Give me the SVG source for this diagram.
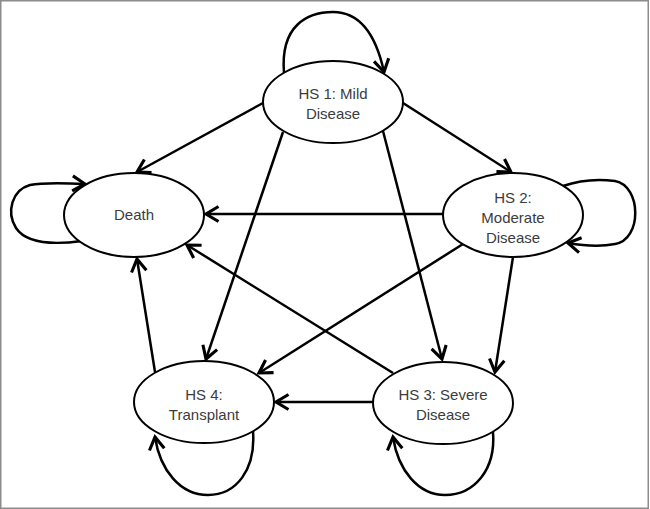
<svg xmlns="http://www.w3.org/2000/svg" width="650" height="509" viewBox="0 0 650 509">
<defs>
<marker id="arr" markerUnits="userSpaceOnUse" markerWidth="20" markerHeight="20" viewBox="-12 -8 14 16" refX="0" refY="0" orient="auto" overflow="visible">
<path d="M-10,-6 L0,0 L-10,6" fill="none" stroke="#000" stroke-width="2.5" stroke-linejoin="miter"/>
</marker>
<style>
.node ellipse{fill:#fff;stroke:#000;stroke-width:2}
.node text{font-family:"Liberation Sans",Arial,sans-serif;font-size:15px;fill:#3c3c3c;text-anchor:middle}
.edge{fill:none;stroke:#000;stroke-width:2.5;marker-end:url(#arr)}
</style>
</defs>
<rect x="0.75" y="0.75" width="647.5" height="507.5" fill="#fff" stroke="#8c8c8c" stroke-width="1.5"/>
<g id="connectors">
<path class="edge" d="M263,103 L137,172"/>
<path class="edge" d="M403,103 L511,172"/>
<path class="edge" d="M283,132 L206,359"/>
<path class="edge" d="M383,131 L442,359"/>
<path class="edge" d="M443,214 L206,214"/>
<path class="edge" d="M463,244 L259,373"/>
<path class="edge" d="M513,257 L495,372"/>
<path class="edge" d="M393,373 L187,245"/>
<path class="edge" d="M373,402 L276,402"/>
<path class="edge" d="M155,372 L137,259"/>
<path class="edge" d="M284,73 C280,25 308,12 333,12 C360,12 376,35 384,72"/>
<path class="edge" d="M82,241 C60,244 28,246 16,228 C6,212 12,190 30,185 C45,182 65,183 85,184"/>
<path class="edge" d="M563,186 C580,180 600,179 615,181 C642,186 642,240 615,244 C600,247 585,246 568,243"/>
<path class="edge" d="M253,431 C256,470 236,495 208,495 C180,495 160,470 155,437"/>
<path class="edge" d="M493,432 C496,470 474,495 445,495 C418,495 398,470 393,437"/>
</g>
<g id="hs1" class="node">
<ellipse cx="333" cy="102" rx="70" ry="41"/>
<text x="333" y="99">HS 1: Mild</text>
<text x="333" y="119">Disease</text>
</g>
<g id="death" class="node">
<ellipse cx="134" cy="215" rx="70" ry="42"/>
<text x="134" y="220">Death</text>
</g>
<g id="hs2" class="node">
<ellipse cx="513" cy="215" rx="70" ry="42"/>
<text x="513" y="203">HS 2:</text>
<text x="513" y="223">Moderate</text>
<text x="513" y="243">Disease</text>
</g>
<g id="hs4" class="node">
<ellipse cx="204" cy="402" rx="70" ry="41"/>
<text x="204" y="400">HS 4:</text>
<text x="204" y="420">Transplant</text>
</g>
<g id="hs3" class="node">
<ellipse cx="443" cy="403" rx="70" ry="41"/>
<text x="443" y="400">HS 3: Severe</text>
<text x="443" y="420">Disease</text>
</g>
</svg>
